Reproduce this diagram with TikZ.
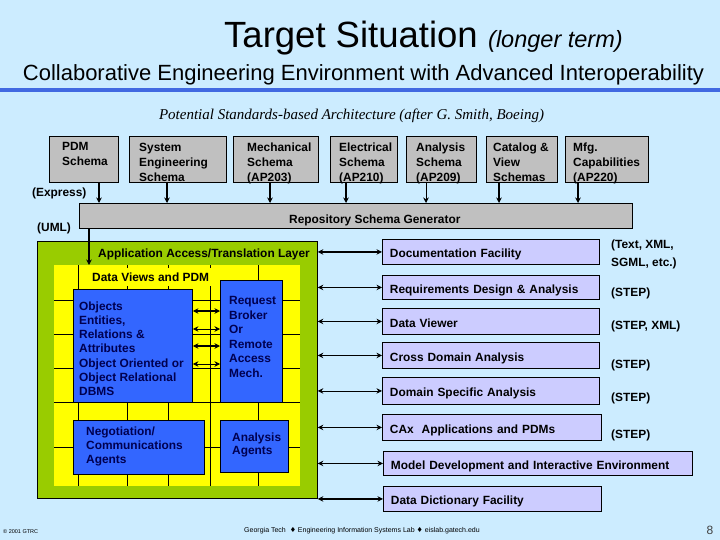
\documentclass[tikz,border=0pt]{standalone}
\usepackage{fontspec}
\setmainfont{Liberation Sans}
\newfontfamily\serifit{Liberation Serif}
\newfontfamily\dejavu{DejaVu Sans}
\usetikzlibrary{arrows.meta}
\definecolor{bgc}{HTML}{CCECFF}
\definecolor{schemagray}{HTML}{C0C0C0}
\definecolor{aagreen}{HTML}{99CC00}
\definecolor{ylw}{HTML}{FFFF00}
\definecolor{bluebox}{HTML}{3366FF}
\definecolor{navytxt}{HTML}{000050}
\definecolor{lav}{HTML}{CCCCFF}
\definecolor{rule}{HTML}{4169E1}
\newcommand\fBody{\fontsize{11.9}{15}\selectfont\bfseries}
\begin{document}
\begin{tikzpicture}[x=1pt,y=-1pt,
  every node/.style={inner sep=0pt},
  tip/.tip={Stealth[length=5.5pt,width=5.5pt]},
  schema/.style={draw=black, line width=1pt, fill=schemagray, anchor=north west},
  bbox/.style={draw=black, line width=0.9pt, fill=bluebox, anchor=north west},
  rbox/.style={draw=black, line width=0.9pt, fill=lav, anchor=north west, text height=12pt, text depth=0pt, align=left, font=\fBody, inner xsep=7.5pt},
  lbl/.style={anchor=north west, align=left, font=\fBody},
  blbl/.style={anchor=north west, align=left, text=navytxt},
  grid/.style={line width=0.6pt, black},
  arr/.style={-tip, line width=1.4pt},
  thinarr/.style={-tip, line width=0.8pt},
  dbl/.style={tip-tip, line width=1.4pt},
  thindbl/.style={tip-tip, line width=0.8pt}
]
\fill[bgc] (0,0) rectangle (720,540);
\useasboundingbox (0,0) rectangle (720,540);

% titles
\node[anchor=base west, font=\fontsize{36.5}{40}\selectfont] (title) at (224,48) {Target Situation};
\node[anchor=base west, font=\fontsize{23.5}{26}\selectfont\itshape] (title2) at (488,48) {(longer term)};
\node[anchor=base, font=\fontsize{22}{26}\selectfont] (sub) at (363.5,81) {Collaborative Engineering Environment with Advanced Interoperability};
\fill[rule] (0,88) rectangle (720,92);
\node[anchor=base, font=\serifit\fontsize{15}{18}\selectfont\itshape] (pot) at (351.5,120) {Potential Standards-based Architecture (after G.~Smith, Boeing)};

% schema boxes
\node[schema, minimum width=69pt, minimum height=46pt] (pdm) at (49,136) {};
\node[schema, minimum width=97pt, minimum height=46pt] (syse) at (129,136) {};
\node[schema, minimum width=85pt, minimum height=46pt] (mech) at (233,136) {};
\node[schema, minimum width=67pt, minimum height=46pt] (elec) at (330,136) {};
\node[schema, minimum width=70pt, minimum height=46pt] (anal) at (406,136) {};
\node[schema, minimum width=71pt, minimum height=46pt] (cat) at (486,136) {};
\node[schema, minimum width=83pt, minimum height=46pt] (mfg) at (565,136) {};
\node[lbl] (pdmT) at (62,142.5) {PDM\\Schema};
\node[lbl] (syseT) at (139,142.5) {System\\Engineering\\Schema};
\node[lbl] (mechT) at (247,142.5) {Mechanical\\Schema\\(AP203)};
\node[lbl] (elecT) at (339,142.5) {Electrical\\Schema\\(AP210)};
\node[lbl] (analT) at (416,142.5) {Analysis\\Schema\\(AP209)};
\node[lbl] (catT) at (493,142.5) {Catalog \&\\View\\Schemas};
\node[lbl] (mfgT) at (573,142.5) {Mfg.\\Capabilities\\(AP220)};

% repository bar
\node[schema, minimum width=553pt, minimum height=25pt] (repo) at (79,203) {};
\node[lbl] (repoT) at (289,214.5) {Repository Schema Generator};
\node[lbl] (express) at (32,188) {(Express)};
\node[lbl] (uml) at (37,222.5) {(UML)};

\draw[arr] (99,0 |- pdm.south) -- (99,0 |- repo.north);
\draw[arr] (167,0 |- syse.south) -- (167,0 |- repo.north);
\draw[arr] (270,0 |- mech.south) -- (270,0 |- repo.north);
\draw[arr] (346,0 |- elec.south) -- (346,0 |- repo.north);
\draw[thinarr] (426,0 |- anal.south) -- (426,0 |- repo.north);
\draw[arr] (499,0 |- cat.south) -- (499,0 |- repo.north);
\draw[arr] (578,0 |- mfg.south) -- (578,0 |- repo.north);

% green and yellow
\node[draw=black, line width=0.8pt, fill=aagreen, minimum width=280pt, minimum height=257pt, anchor=north west] (grn) at (37,241) {};
\node[fill=ylw, minimum width=246pt, minimum height=221pt, anchor=north west] (yel) at (54,265) {};
\foreach \yy in {300,334,368,402,447} \draw[grid] (yel.west |- 0,\yy) -- (yel.east |- 0,\yy);
\foreach \xx in {78,127,168,210,258} \draw[grid] (\xx,0 |- yel.north) -- (\xx,0 |- yel.south);
\node[lbl] (aat) at (98,248.5) {Application Access/Translation Layer};
\node[anchor=north west, fill=ylw, inner xsep=1.5pt, inner ysep=5pt, font=\fBody] (dvp) at (90.5,267.5) {Data Views and PDM};

% blue boxes
\node[bbox, minimum width=119pt, minimum height=113pt] (obj) at (73,289) {};
\node[bbox, minimum width=62pt, minimum height=122pt] (rb) at (220,280) {};
\node[bbox, minimum width=131pt, minimum height=54pt] (neg) at (73,420) {};
\node[bbox, minimum width=68pt, minimum height=52pt] (aa) at (220,420) {};
\node[blbl, font=\fontsize{11.9}{14.2}\selectfont\bfseries] (objT) at (79,301.5) {Objects\\Entities,\\Relations \&\\Attributes\\Object Oriented or\\Object Relational\\DBMS};
\node[blbl, font=\fontsize{11.9}{14.5}\selectfont\bfseries] (rbT) at (229,296.5) {Request\\Broker\\Or\\Remote\\Access\\Mech.};
\node[blbl, font=\fontsize{11.9}{14.3}\selectfont\bfseries] (negT) at (86,426.5) {Negotiation/\\Communications\\Agents};
\node[blbl, font=\fontsize{11.9}{13.5}\selectfont\bfseries] (aaT) at (232,432.5) {Analysis\\Agents};

\draw[dbl] (obj.east |- 0,311) -- (rb.west |- 0,311);
\draw[thindbl] (obj.east |- 0,329) -- (rb.west |- 0,329);
\draw[dbl] (obj.east |- 0,346) -- (rb.west |- 0,346);
\draw[thindbl] (obj.east |- 0,364) -- (rb.west |- 0,364);

\draw[arr] (89,0 |- repo.south) -- (89,0 |- yel.north);

% right boxes
\node[rbox, minimum width=217pt, minimum height=25pt, text width=202pt] (doc) at (382,239) {Documentation Facility};
\node[rbox, minimum width=217pt, minimum height=24pt, text width=202pt] (req) at (382,275) {Requirements Design \& Analysis};
\node[rbox, minimum width=217pt, minimum height=26pt, text width=202pt] (dv) at (382,308) {Data Viewer};
\node[rbox, minimum width=217pt, minimum height=26pt, text width=202pt] (cda) at (382,342) {Cross Domain Analysis};
\node[rbox, minimum width=217pt, minimum height=27pt, text width=202pt] (dsa) at (382,377) {Domain Specific Analysis};
\node[rbox, minimum width=219pt, minimum height=26pt, text width=204pt] (cax) at (382,414) {CAx\ \ Applications and PDMs};
\node[rbox, minimum width=309pt, minimum height=24pt, text width=294pt] (mde) at (383,451) {Model Development and Interactive Environment};
\node[rbox, minimum width=218pt, minimum height=25pt, text width=203pt] (ddf) at (383,486) {Data Dictionary Facility};

\draw[dbl] (grn.east |- doc.west) -- (doc.west);
\draw[thindbl] (grn.east |- req.west) -- (req.west);
\draw[thindbl] (grn.east |- dv.west) -- (dv.west);
\draw[dbl] (grn.east |- cda.west) -- (cda.west);
\draw[thindbl] (grn.east |- dsa.west) -- (dsa.west);
\draw[dbl] (grn.east |- cax.west) -- (cax.west);
\draw[dbl] (grn.east |- mde.west) -- (mde.west);
\draw[dbl] (grn.east |- ddf.west) -- (ddf.west);

% right labels
\node[lbl, font=\fontsize{11.9}{17.5}\selectfont\bfseries] (fmt1) at (611,240) {(Text, XML,\\SGML, etc.)};
\node[lbl] (fmt2) at (611,287.5) {(STEP)};
\node[lbl] (fmt3) at (611,321) {(STEP, XML)};
\node[lbl] (fmt4) at (611,360) {(STEP)};
\node[lbl] (fmt5) at (611,393) {(STEP)};
\node[lbl] (fmt6) at (611,429.5) {(STEP)};

% footer
\node[anchor=west, font=\fontsize{5.5}{6}\selectfont] (copy) at (3,532) {\textcopyright\ 2001 GTRC};
\node[anchor=center, font=\fontsize{7}{8}\selectfont] (foot) at (362,531) {Georgia Tech \ {\dejavu ♦} Engineering Information Systems Lab {\dejavu ♦} eislab.gatech.edu};
\node[anchor=center, font=\fontsize{12}{14}\selectfont, text=black!75] (pg) at (710,530) {8};
\end{tikzpicture}
\end{document}
